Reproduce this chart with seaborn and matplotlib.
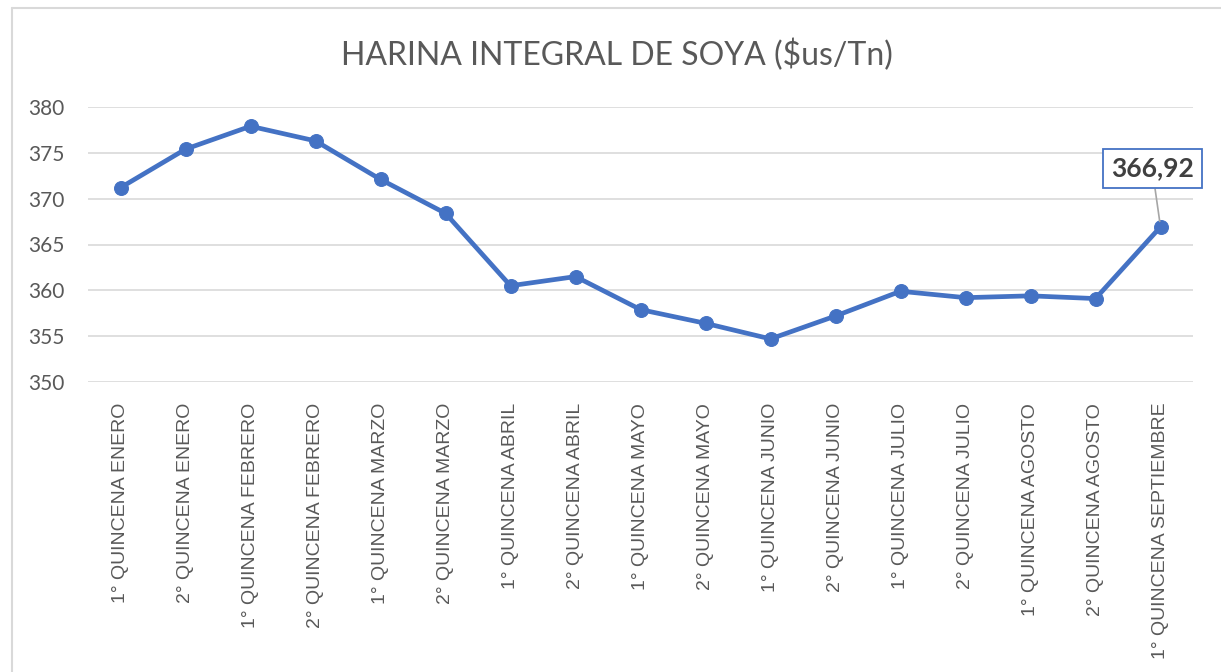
import matplotlib
matplotlib.use("Agg")
import matplotlib.pyplot as plt
import seaborn as sns
import pandas as pd
from matplotlib.lines import Line2D

# datos
quincenas = [
    "1° QUINCENA ENERO", "2° QUINCENA ENERO",
    "1° QUINCENA FEBRERO", "2° QUINCENA FEBRERO",
    "1° QUINCENA MARZO", "2° QUINCENA MARZO",
    "1° QUINCENA ABRIL", "2° QUINCENA ABRIL",
    "1° QUINCENA MAYO", "2° QUINCENA MAYO",
    "1° QUINCENA JUNIO", "2° QUINCENA JUNIO",
    "1° QUINCENA JULIO", "2° QUINCENA JULIO",
    "1° QUINCENA AGOSTO", "2° QUINCENA AGOSTO",
    "1° QUINCENA SEPTIEMBRE",
]
precios = [371.2, 375.4, 377.9, 376.3, 372.1, 368.4, 360.5, 361.5,
           357.9, 356.4, 354.7, 357.2, 359.9, 359.2, 359.4, 359.1, 366.92]
y_ticks = [350, 355, 360, 365, 370, 375, 380]

titulo = "HARINA INTEGRAL DE SOYA ($us/Tn)"
azul = "#4472C4"
gris_txt = "#595959"
gris_grid = "#D9D9D9"

df = pd.DataFrame({"quincena": quincenas, "precio": precios})

sns.set_style("white")
fig = plt.figure(figsize=(12.21, 6.72), dpi=100)
ax = fig.add_axes([88 / 1221, 1 - 382 / 672, (1193 - 88) / 1221, (382 - 107) / 672])

sns.lineplot(data=df, x="quincena", y="precio", ax=ax, color=azul, linewidth=3.4,
             marker="o", markersize=10, markeredgecolor=azul, sort=False)

ax.set_xlim(-0.5, len(quincenas) - 0.5)
ax.set_ylim(350, 380)
ax.set_yticks(y_ticks)
ax.set_xticks(range(len(quincenas)))
ax.set_xticklabels(quincenas, rotation=90, fontsize=14, color=gris_txt,
                   family=["Liberation Sans", "DejaVu Sans"])
for t in ax.get_yticklabels():
    t.set_fontsize(15)
    t.set_color(gris_txt)
    t.set_family("Lato")
ax.tick_params(axis="x", length=0, pad=15)
ax.tick_params(axis="y", length=0, pad=17)
ax.grid(axis="y", color=gris_grid, linewidth=1.2)
ax.set_axisbelow(True)
for s in ax.spines.values():
    s.set_visible(False)
ax.set_xlabel("")
ax.set_ylabel("")

fig.text(0.505, 1 - 55 / 672, titulo, ha="center", va="center", fontsize=23,
         color=gris_txt, family="Lato")

# etiqueta del ultimo punto
ult = len(precios) - 1
ax.annotate(f"{precios[ult]:.2f}".replace(".", ","), xy=(ult, precios[ult]),
            xytext=(-6, 42), textcoords="offset points", ha="center", va="center",
            fontsize=19, fontweight="bold", color="#404040", family="Lato",
            bbox=dict(boxstyle="square,pad=0.3", fc="white", ec=azul, lw=1.3),
            arrowprops=dict(arrowstyle="-", color="#A6A6A6", lw=1.2, shrinkA=0, shrinkB=4))

# borde del area del grafico
fig.add_artist(Line2D([12 / 1221, 1], [1 - 7.5 / 672, 1 - 7.5 / 672],
                      transform=fig.transFigure, color=gris_grid, lw=1.5))
fig.add_artist(Line2D([12 / 1221, 12 / 1221], [0, 1 - 7.5 / 672],
                      transform=fig.transFigure, color=gris_grid, lw=1.5))

fig.savefig("out.png", dpi=100)
